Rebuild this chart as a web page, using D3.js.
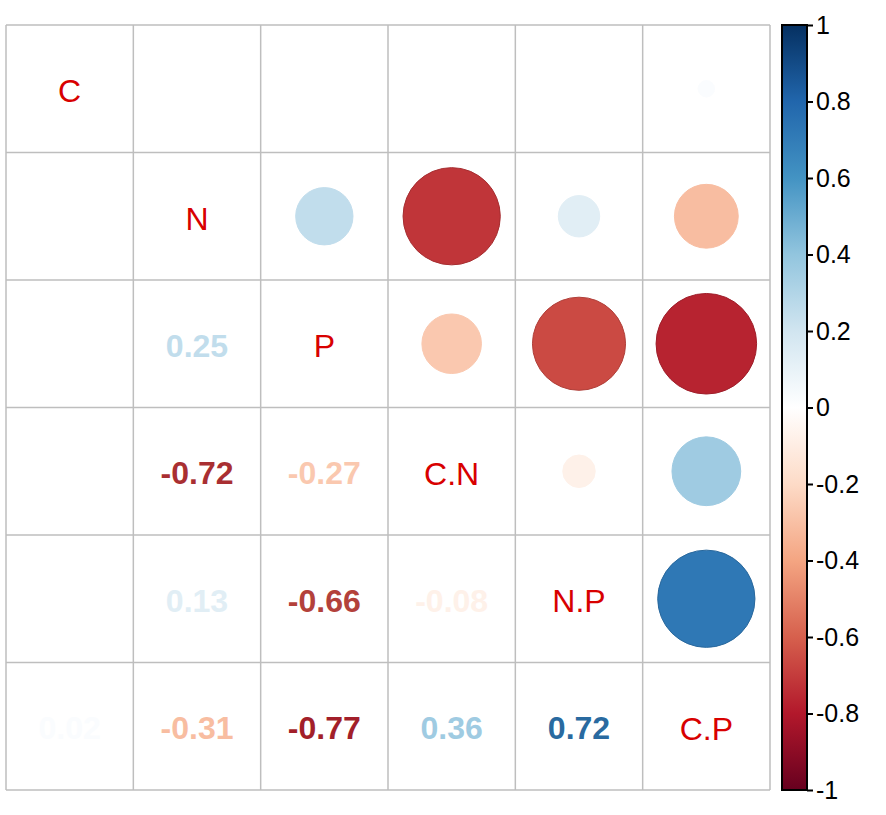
<!DOCTYPE html>
<html lang="en">
<head>
    <meta charset="UTF-8">
    <title>corrplot mixed</title>
    <style>
        body { margin: 0; background: #fff; }
        text { font-family: "Liberation Sans", Arial, sans-serif; }
    </style>
</head>
<body>
    <script src="https://cdn.jsdelivr.net/npm/d3@7/dist/d3.min.js"></script>
    <script>
        // variables and correlation matrix (row by row)
        var vars = ['C', 'N', 'P', 'C.N', 'N.P', 'C.P'];
        var rowC  = [1, 0.00, 0.00, 0.00, 0.00, 0.02];
        var rowN  = [0.00, 1, 0.25, -0.72, 0.13, -0.31];
        var rowP  = [0.00, 0.25, 1, -0.27, -0.66, -0.77];
        var rowCN = [0.00, -0.72, -0.27, 1, -0.08, 0.36];
        var rowNP = [0.00, 0.13, -0.66, -0.08, 1, 0.72];
        var rowCP = [0.02, -0.31, -0.77, 0.36, 0.72, 1];
        var corr = [rowC, rowN, rowP, rowCN, rowNP, rowCP];
        var legendTicks = [1, 0.8, 0.6, 0.4, 0.2, 0, -0.2, -0.4, -0.6, -0.8, -1];

        var width = 886,
            height = 815,
            box = {left: 6, right: 770, top: 25, bottom: 790};

        var svg = d3.select('body').append('svg')
            .attr('width', width)
            .attr('height', height);

        // RdBu palette used by corrplot
        var palette = ['#67001F', '#B2182B', '#D6604D', '#F4A582', '#FDDBC7', '#FFFFFF',
                       '#D1E5F0', '#92C5DE', '#4393C3', '#2166AC', '#053061'];
        var color = d3.scaleLinear()
            .domain(d3.range(11).map(function(i) { return -1 + i * 0.2; }))
            .range(palette);

        var x = d3.scaleBand().domain(vars).range([box.left, box.right]);
        var y = d3.scaleBand().domain(vars).range([box.top, box.bottom]);
        var bw = x.bandwidth(), bh = y.bandwidth();
        var r = d3.scaleSqrt().domain([0, 1]).range([0, 0.9 * bw / 2]);
        var fmt = function(v) { return d3.format('.2f')(v).replace('\u2212', '-'); };

        // flatten into cells
        var cells = [];
        corr.forEach(function(row, i) {
            row.forEach(function(v, j) {
                cells.push({row: vars[i], col: vars[j], i: i, j: j, v: v});
            });
        });

        // grid
        var grid = svg.append('g');
        grid.selectAll('line.v')
            .data(d3.range(vars.length + 1))
            .enter().append('line')
            .attr('x1', function(d) { return box.left + d * bw; })
            .attr('x2', function(d) { return box.left + d * bw; })
            .attr('y1', box.top).attr('y2', box.bottom)
            .attr('stroke', '#bebebe').attr('stroke-width', 1.5);
        grid.selectAll('line.h')
            .data(d3.range(vars.length + 1))
            .enter().append('line')
            .attr('y1', function(d) { return box.top + d * bh; })
            .attr('y2', function(d) { return box.top + d * bh; })
            .attr('x1', box.left).attr('x2', box.right)
            .attr('stroke', '#bebebe').attr('stroke-width', 1.5);

        // upper triangle: circles
        svg.append('g').selectAll('circle')
            .data(cells.filter(function(d) { return d.j > d.i && d.v !== 0; }))
            .enter().append('circle')
            .attr('cx', function(d) { return x(d.col) + bw / 2; })
            .attr('cy', function(d) { return y(d.row) + bh / 2; })
            .attr('r', function(d) { return r(Math.abs(d.v)); })
            .attr('fill', function(d) { return color(d.v); })
            .attr('stroke', function(d) {
                return Math.abs(d.v) < 0.5 ? color(d.v) : d3.color(color(d.v)).darker(0.4);
            })
            .attr('stroke-width', 1);

        // lower triangle: numbers
        svg.append('g').selectAll('text')
            .data(cells.filter(function(d) { return d.j < d.i; }))
            .enter().append('text')
            .attr('x', function(d) { return x(d.col) + bw / 2; })
            .attr('y', function(d) { return y(d.row) + bh / 2; })
            .attr('dy', '0.4em')
            .attr('text-anchor', 'middle')
            .attr('font-size', 32)
            .attr('font-weight', 'bold')
            .attr('fill', function(d) {
                return Math.abs(d.v) > 0.5 ? d3.color(color(d.v)).darker(0.35) : color(d.v);
            })
            .text(function(d) { return fmt(d.v); });

        // diagonal labels
        svg.append('g').selectAll('text')
            .data(vars)
            .enter().append('text')
            .attr('x', function(d) { return x(d) + bw / 2; })
            .attr('y', function(d) { return y(d) + bh / 2; })
            .attr('dy', '0.42em')
            .attr('text-anchor', 'middle')
            .attr('font-size', 32)
            .attr('fill', '#d80000')
            .text(function(d) { return d; });

        // colour legend
        var lx = 782, lw = 25;
        var defs = svg.append('defs');
        var grad = defs.append('linearGradient')
            .attr('id', 'cbar')
            .attr('x1', 0).attr('y1', 1).attr('x2', 0).attr('y2', 0);
        grad.selectAll('stop')
            .data(palette)
            .enter().append('stop')
            .attr('offset', function(d, i) { return (i * 10) + '%'; })
            .attr('stop-color', function(d) { return d; });

        svg.append('rect')
            .attr('x', lx).attr('y', box.top)
            .attr('width', lw).attr('height', box.bottom - box.top)
            .attr('fill', 'url(#cbar)')
            .attr('stroke', '#000').attr('stroke-width', 2);

        var ly = d3.scaleLinear().domain([-1, 1]).range([box.bottom, box.top]);
        var axis = d3.axisRight(ly)
            .tickValues(legendTicks)
            .tickSize(6)
            .tickPadding(3)
            .tickFormat(function(d) { return String(+d.toFixed(1)); });
        var ag = svg.append('g')
            .attr('transform', 'translate(' + (lx + lw) + ',0)')
            .call(axis);
        ag.select('.domain').remove();
        ag.selectAll('line').attr('stroke', '#000').attr('stroke-width', 2);
        ag.selectAll('text')
            .attr('font-size', 25)
            .attr('fill', '#000')
            .style('font-family', '"Liberation Sans", Arial, sans-serif');
    </script>
</body>
</html>
